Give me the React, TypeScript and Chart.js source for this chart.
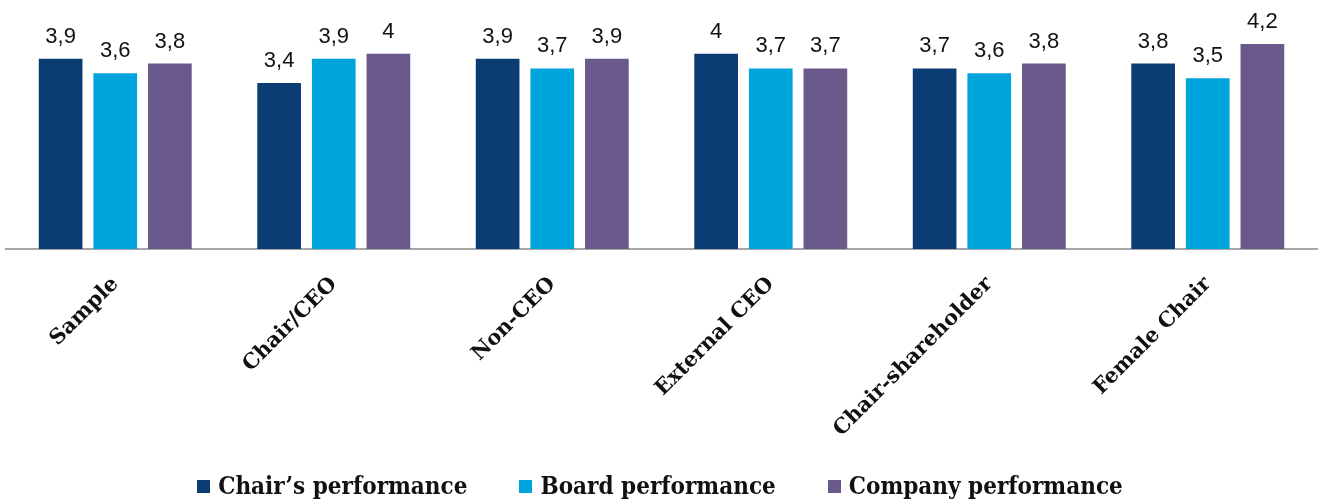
import React, { useEffect, useRef } from "react";
import { Chart, registerables } from "chart.js";

Chart.register(...registerables);

const categories = ["Sample", "Chair/CEO", "Non-CEO", "External CEO", "Chair-shareholder", "Female Chair"];
const chairPerformance = [3.9, 3.4, 3.9, 4.0, 3.7, 3.8];
const boardPerformance = [3.6, 3.9, 3.7, 3.7, 3.6, 3.5];
const companyPerformance = [3.8, 4.0, 3.9, 3.7, 3.8, 4.2];
const seriesNames = ["Chair\u2019s performance", "Board performance", "Company performance"];
const seriesColors = ["#0B3D74", "#00A4DC", "#6A5A8C"];
const yMin = 0;
const yMax = 5;

const formatValue = (v: number) => String(v).replace(".", ",");

const valueLabels = {
  id: "valueLabels",
  afterDatasetsDraw(chart: any) {
    const ctx = chart.ctx;
    ctx.save();
    ctx.font = "22px 'Liberation Sans', Arial, sans-serif";
    ctx.fillStyle = "#111111";
    ctx.textAlign = "center";
    ctx.textBaseline = "alphabetic";
    chart.data.datasets.forEach((ds: any, i: number) => {
      const meta = chart.getDatasetMeta(i);
      meta.data.forEach((bar: any, j: number) => {
        ctx.fillText(formatValue(ds.data[j]), bar.x, bar.y - 16);
      });
    });
    ctx.restore();
  },
};

export default function App() {
  const canvasRef = useRef<HTMLCanvasElement | null>(null);

  useEffect(() => {
    document.body.style.margin = "0";
    const canvas = canvasRef.current;
    if (!canvas) return;
    const chart = new Chart(canvas, {
      type: "bar",
      data: {
        labels: categories,
        datasets: [chairPerformance, boardPerformance, companyPerformance].map((d, i) => ({
          label: seriesNames[i],
          data: d,
          backgroundColor: seriesColors[i],
          borderWidth: 0,
          categoryPercentage: 0.75,
          barPercentage: 0.8,
        })),
      },
      options: {
        animation: false,
        responsive: true,
        maintainAspectRatio: false,
        layout: { padding: { left: 6, right: 3, top: 5, bottom: 0 } },
        plugins: {
          tooltip: { enabled: false },
          legend: { display: false },
        },
        scales: {
          x: {
            grid: { display: false },
            border: { display: true, color: "#A6A6A6", width: 2 },
            ticks: {
              maxRotation: 45,
              minRotation: 45,
              padding: 15,
              color: "#111111",
              font: { family: "'DejaVu Serif', serif", size: 21, weight: "bold" },
            },
            afterFit: (scale: any) => {
              scale.height = 251;
            },
          },
          y: {
            display: false,
            min: yMin,
            max: yMax,
          },
        },
      },
      plugins: [valueLabels],
    });
    return () => chart.destroy();
  }, []);

  return (
    <div style={{ width: 1320, height: 500, position: "relative" }}>
      <canvas ref={canvasRef} />
      <div
        style={{
          position: "absolute",
          left: 0,
          width: 1320,
          top: 474,
          display: "flex",
          justifyContent: "center",
          gap: 52,
          fontFamily: "'DejaVu Serif Condensed', 'DejaVu Serif', serif",
          fontWeight: "bold",
          fontSize: 24,
          lineHeight: "24px",
          color: "#111111",
          whiteSpace: "nowrap",
        }}
      >
        {seriesNames.map((name, i) => (
          <div key={name} style={{ display: "flex", alignItems: "center" }}>
            <span
              style={{
                display: "inline-block",
                width: 13,
                height: 13,
                background: seriesColors[i],
                marginRight: 8,
              }}
            />
            <span>{name}</span>
          </div>
        ))}
      </div>
    </div>
  );
}
